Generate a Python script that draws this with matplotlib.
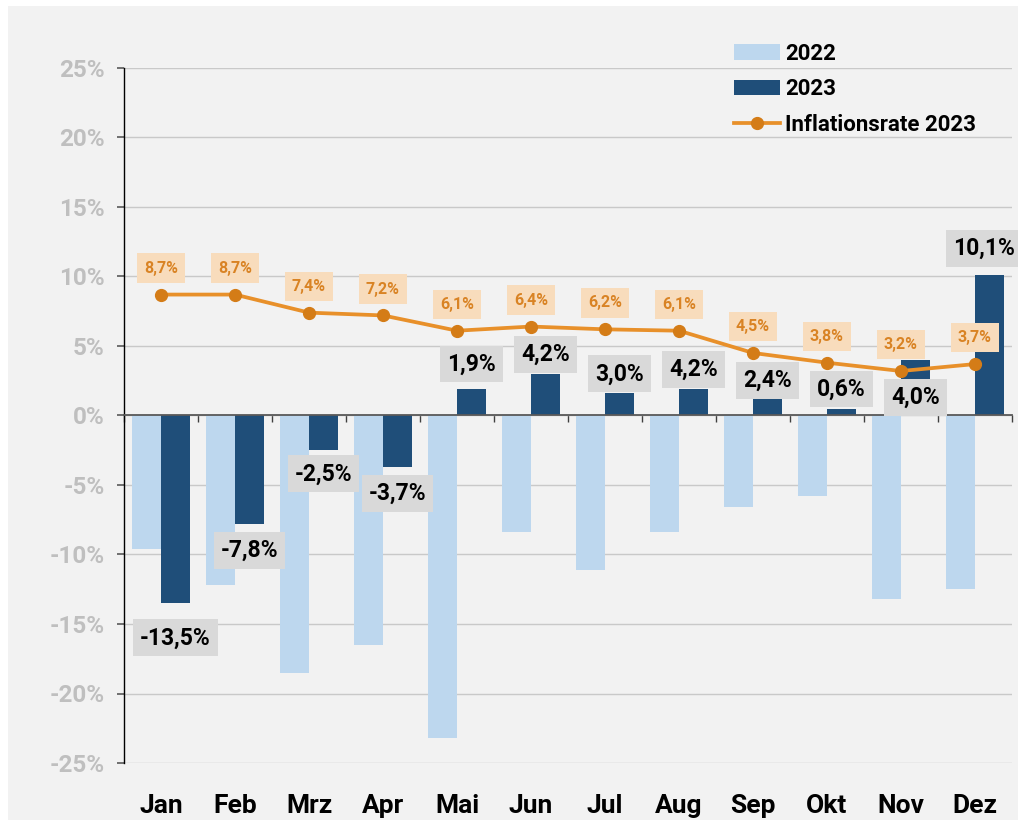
import matplotlib
matplotlib.use("Agg")
import matplotlib.pyplot as plt
import numpy as np
from matplotlib.patches import Rectangle

plt.rcParams["font.family"] = ["Roboto", "DejaVu Sans"]
plt.rcParams["font.weight"] = "bold"

# --- data ---
months = ["Jan", "Feb", "Mrz", "Apr", "Mai", "Jun", "Jul", "Aug", "Sep", "Okt", "Nov", "Dez"]
val_2022 = [-9.6, -12.2, -18.5, -16.5, -23.2, -8.4, -11.1, -8.4, -6.6, -5.8, -13.2, -12.5]
val_2023 = [-13.5, -7.8, -2.5, -3.7, 1.9, 3.0, 1.6, 1.9, 1.2, 0.5, 4.0, 10.1]
labels_2023 = ["-13,5%", "-7,8%", "-2,5%", "-3,7%", "1,9%", "4,2%",
               "3,0%", "4,2%", "2,4%", "0,6%", "4,0%", "10,1%"]
inflation = [8.7, 8.7, 7.4, 7.2, 6.1, 6.4, 6.2, 6.1, 4.5, 3.8, 3.2, 3.7]
yticks = [-25, -20, -15, -10, -5, 0, 5, 10, 15, 20, 25]

# layout: offset (points) of each 2023 value label from the bar end
label_dy = [-25, -19, -17, -19, 18, 14, 14, 14, 13, 14, -27, 19]
label_dx = [0, 0, 0, 0, 0, 0, 0, 0, 0, 0, 0, -4]

C_LIGHT = "#bdd7ee"
C_DARK = "#1f4e79"
C_LINE = "#e8902a"
C_MARK = "#d47c17"
C_BG = "#f2f2f2"


def pct(v):
    return f"{v:.1f}".replace(".", ",") + "%"


fig = plt.figure(figsize=(10.18, 8.23), dpi=100)
fig.patch.set_facecolor("white")
W, H = 1018, 823
fig.patches.append(Rectangle((8 / W, 1 - 820 / H), 1 - 8 / W, (820 - 6) / H,
                             transform=fig.transFigure, facecolor=C_BG,
                             edgecolor="none", zorder=-10))

ax = fig.add_axes([124 / W, 1 - 763 / H, (1012 - 124) / W, (763 - 68) / H])
ax.patch.set_visible(False)

x = np.arange(len(months))
bw = 0.39
b22 = ax.bar(x - 0.195, val_2022, bw, color=C_LIGHT, label="2022", zorder=2)
b23 = ax.bar(x + 0.195, val_2023, bw, color=C_DARK, label="2023", zorder=2)
ln, = ax.plot(x, inflation, color=C_LINE, lw=2.7, marker="o", markersize=8.5,
              markerfacecolor=C_MARK, markeredgecolor=C_MARK,
              label="Inflationsrate 2023", zorder=4)

for xi, v, txt, dy, dx in zip(x, val_2023, labels_2023, label_dy, label_dx):
    ax.annotate(txt, (xi + 0.195, v), xytext=(dx, dy), textcoords="offset points",
                ha="center", va="center", fontsize=16.5, fontweight="bold",
                color="black", zorder=5, annotation_clip=False,
                bbox=dict(boxstyle="square,pad=0.3", fc="#d9d9d9", ec="none"))

for xi, v in zip(x, inflation):
    ax.annotate(pct(v), (xi, v), xytext=(0, 19), textcoords="offset points",
                ha="center", va="center", fontsize=11.5, fontweight="bold",
                color="#d98324", zorder=5,
                bbox=dict(boxstyle="square,pad=0.45", fc="#f8dcbc", ec="none"))

ax.set_xlim(-0.5, 11.5)
ax.set_ylim(-25, 25)
ax.set_yticks(yticks)
ax.set_yticklabels([f"{t}%" for t in yticks], fontsize=17.5, fontweight="bold",
                   color="#bfbfbf")
ax.tick_params(axis="y", length=5, width=1.2, color="#595959", pad=9)
ax.grid(axis="y", color="#c9c9c9", lw=1.0, zorder=0)

for s in ["top", "right"]:
    ax.spines[s].set_visible(False)
ax.spines["left"].set_color("black")
ax.spines["left"].set_linewidth(1.0)
ax.spines["bottom"].set_position(("data", 0))
ax.spines["bottom"].set_color("#595959")
ax.spines["bottom"].set_linewidth(1.3)
ax.spines["bottom"].set_zorder(3)
ax.set_xticks(np.arange(-0.5, 12, 1.0))
ax.set_xticklabels([])
ax.tick_params(axis="x", length=5, width=1.0, color="#404040", direction="out")

sec = ax.secondary_xaxis(0.0)
sec.set_xticks(x)
sec.set_xticklabels(months, fontsize=19, fontweight="bold", color="black")
sec.tick_params(length=0, pad=22)
sec.spines["bottom"].set_visible(False)

ax.legend([b22, b23, ln], ["2022", "2023", "Inflationsrate 2023"],
          loc="upper left", bbox_to_anchor=(734 / W, 1 - 43 / H),
          bbox_transform=fig.transFigure, frameon=False,
          prop={"weight": "bold", "size": 16}, handlelength=2.05,
          handletextpad=0.25, labelspacing=0.6, borderpad=0, borderaxespad=0)

fig.savefig("out.png", dpi=100, facecolor=fig.get_facecolor())
